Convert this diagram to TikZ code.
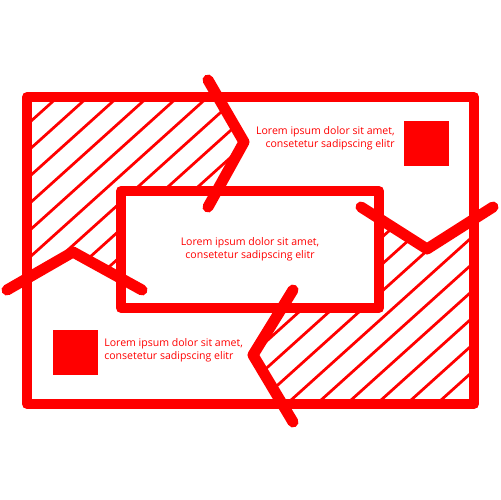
\documentclass[tikz,border=0pt]{standalone}
\usepackage{fontspec}
\setmainfont{Open Sans}
\begin{document}
\begin{tikzpicture}[x=0.02cm,y=-0.02cm,
  frame/.style={draw=red,line width=0.2cm,line join=round,line cap=round},
  chev/.style={draw=red,line width=0.22cm,line join=round,line cap=round},
  hatchline/.style={draw=red,line width=0.055cm},
  txt/.style={text=red,font=\fontsize{6}{7.4}\selectfont,inner sep=0pt},
  sq/.style={fill=red}]
\useasboundingbox (0,0) rectangle (500,500);
% hatching, top-left
\begin{scope}
  \clip (27,97) -- (218,97) -- (244,142) -- (217,191) -- (121,191) -- (121,278) -- (73,252) -- (27,278) -- cycle;
  \foreach \k in {0,...,36} \draw[hatchline] (0,{14+27*\k}) -- (600,{14+27*\k-540});
\end{scope}
% hatching, bottom-right
\begin{scope}
  \clip (474,404) -- (474,219) -- (427,249) -- (379,218) -- (379,308) -- (282,308) -- (253,355) -- (282,404) -- cycle;
  \foreach \k in {0,...,36} \draw[hatchline] (0,{14+27*\k}) -- (600,{14+27*\k-540});
\end{scope}
% frames
\draw[frame] (27,97) rectangle (474,404);
\draw[frame] (121,191) rectangle (379,308);
% chevrons
\draw[chev] (208,80) -- (244,142) -- (208,207);
\draw[chev] (361,207) -- (427,249) -- (493,207);
\draw[chev] (293,290) -- (253,355) -- (293,422);
\draw[chev] (7,290) -- (73,252) -- (142,290);
% squares
\fill[sq] (404,121) rectangle (449,166);
\fill[sq] (53,330) rectangle (98,375);
% texts
\node[txt,anchor=east,align=right] (t1) at (395,138.5) {Lorem ipsum dolor sit amet,\\consetetur sadipscing elitr};
\node[txt,align=center] (t2) at (250,249.5) {Lorem ipsum dolor sit amet,\\consetetur sadipscing elitr};
\node[txt,anchor=west,align=left] (t3) at (104,350.5) {Lorem ipsum dolor sit amet,\\consetetur sadipscing elitr};
\end{tikzpicture}
\end{document}
